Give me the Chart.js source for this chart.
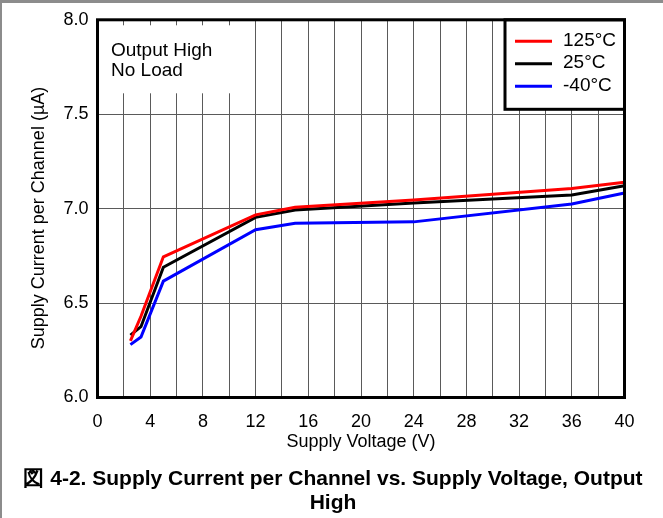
<!DOCTYPE html>
<html>
<head>
<meta charset="utf-8">
<script src="https://cdn.jsdelivr.net/npm/chart.js@4/dist/chart.umd.min.js"></script>
<style>
  html, body { margin: 0; padding: 0; background: #ffffff; }
  #wrap { width: 663px; height: 518px; position: relative; }
</style>
</head>
<body>
<div id="wrap"><canvas id="c" width="663" height="518"></canvas></div>
<script>
// Supply voltage (V) at which each curve was measured
const voltage = [2.5, 3.3, 5, 12, 15, 24, 36, 40];

// Supply current per channel (uA) for each temperature
const current125 = [6.30, 6.43, 6.745, 6.967, 7.007, 7.046, 7.107, 7.14];
const current25  = [6.33, 6.375, 6.69, 6.954, 6.993, 7.03, 7.072, 7.121];
const currentM40 = [6.28, 6.32, 6.616, 6.888, 6.923, 6.93, 7.025, 7.083];

const seriesLabels = ['125°C', '25°C', '-40°C'];
const seriesColors = ['#ff0000', '#000000', '#0000ff'];

// Axis ranges and tick spacing
const xRange = [0, 40];
const xGridStep = 2;
const xLabelStep = 4;
const yRange = [6.0, 8.0];
const yStep = 0.5;

const noteLines = ['Output High', 'No Load'];
const xTitle = 'Supply Voltage (V)';
const yTitle = 'Supply Current per Channel (\u00b5A)';
const captionLines = ['\u56f3 4-2. Supply Current per Channel vs. Supply Voltage, Output', 'High'];

const FONT = '"Liberation Sans", Arial, Helvetica, sans-serif';

function toPoints(xs, ys) {
  return xs.map((x, i) => ({ x: x, y: ys[i] }));
}

const datasets = [current125, current25, currentM40].map((vals, i) => ({
  label: seriesLabels[i],
  data: toPoints(voltage, vals),
  borderColor: seriesColors[i],
  backgroundColor: seriesColors[i],
  borderWidth: 3,
  pointRadius: 0,
  tension: 0,
  fill: false
}));

// Draws the note box, the in-plot legend, the plot frame, the rotated
// y-axis title and the figure caption.
const decorations = {
  id: 'decorations',
  beforeDatasetsDraw(chart) {
    const { ctx, chartArea: a } = chart;
    ctx.save();

    // note box in the upper left corner
    ctx.fillStyle = '#ffffff';
    ctx.fillRect(a.left + 1.5, a.top + 5.5, 144, 68);
    ctx.fillStyle = '#000000';
    ctx.font = '19px ' + FONT;
    ctx.textAlign = 'left';
    ctx.textBaseline = 'alphabetic';
    noteLines.forEach((t, i) => ctx.fillText(t, a.left + 13.5, a.top + 36.5 + i * 20));

    // legend box in the upper right corner
    const lx = a.left + 407.5, ly = a.top, lw = a.right - (a.left + 407.5), lh = 89.5;
    ctx.fillStyle = '#ffffff';
    ctx.fillRect(lx, ly, lw, lh);
    ctx.strokeStyle = '#000000';
    ctx.lineWidth = 3;
    ctx.strokeRect(lx, ly, lw, lh);
    chart.data.datasets.forEach((ds, i) => {
      const ry = a.top + 21.5 + i * 22.5;
      ctx.strokeStyle = ds.borderColor;
      ctx.lineWidth = 3;
      ctx.beginPath();
      ctx.moveTo(a.left + 417.5, ry);
      ctx.lineTo(a.left + 454.5, ry);
      ctx.stroke();
      ctx.fillStyle = '#000000';
      ctx.font = '19px ' + FONT;
      ctx.textAlign = 'left';
      ctx.textBaseline = 'middle';
      ctx.fillText(ds.label, a.left + 465.5, ry - 1);
    });
    ctx.restore();
  },
  afterDraw(chart) {
    const { ctx, chartArea: a, width } = chart;
    ctx.save();

    // plot frame
    ctx.strokeStyle = '#000000';
    ctx.lineWidth = 3;
    ctx.strokeRect(a.left, a.top, a.right - a.left, a.bottom - a.top);

    // y-axis title
    ctx.fillStyle = '#000000';
    ctx.font = '18px ' + FONT;
    ctx.textAlign = 'center';
    ctx.textBaseline = 'middle';
    ctx.translate(39.5, 218);
    ctx.rotate(-Math.PI / 2);
    ctx.fillText(yTitle, 0, 0);
    ctx.setTransform(1, 0, 0, 1, 0, 0);

    // caption
    ctx.font = 'bold 21px ' + FONT;
    ctx.textAlign = 'center';
    ctx.textBaseline = 'alphabetic';
    captionLines.forEach((t, i) => ctx.fillText(t, 333, 485 + i * 24));

    // outer page border
    ctx.fillStyle = '#8c8c8c';
    ctx.fillRect(0, 0, width, 3);
    ctx.fillRect(0, 0, 2, chart.height);
    ctx.restore();
  }
};

new Chart(document.getElementById('c'), {
  type: 'line',
  data: { datasets: datasets },
  options: {
    responsive: false,
    animation: false,
    events: [],
    layout: { padding: { left: 0, top: 19.5, right: 38.5, bottom: 60.5 } },
    plugins: {
      legend: { display: false },
      tooltip: { enabled: false },
      title: { display: false }
    },
    scales: {
      x: {
        type: 'linear',
        min: xRange[0],
        max: xRange[1],
        afterFit(scale) { scale.height = 60; },
        border: { display: false },
        grid: { color: '#5a5a5a', lineWidth: 1, drawTicks: false },
        ticks: {
          stepSize: xGridStep,
          autoSkip: false,
          maxRotation: 0,
          padding: 14,
          color: '#000000',
          font: { family: FONT, size: 18 },
          callback: (v) => (v % xLabelStep === 0 ? String(v) : '')
        },
        title: {
          display: true,
          text: xTitle,
          color: '#000000',
          font: { family: FONT, size: 18 },
          padding: { top: 0, bottom: 5 }
        }
      },
      y: {
        type: 'linear',
        min: yRange[0],
        max: yRange[1],
        afterFit(scale) { scale.width = 97.5; },
        border: { display: false },
        grid: { color: '#5a5a5a', lineWidth: 1, drawTicks: false },
        ticks: {
          stepSize: yStep,
          padding: 9,
          color: '#000000',
          font: { family: FONT, size: 18 },
          callback: (v) => Number(v).toFixed(1)
        }
      }
    }
  },
  plugins: [decorations]
});
</script>
</body>
</html>
